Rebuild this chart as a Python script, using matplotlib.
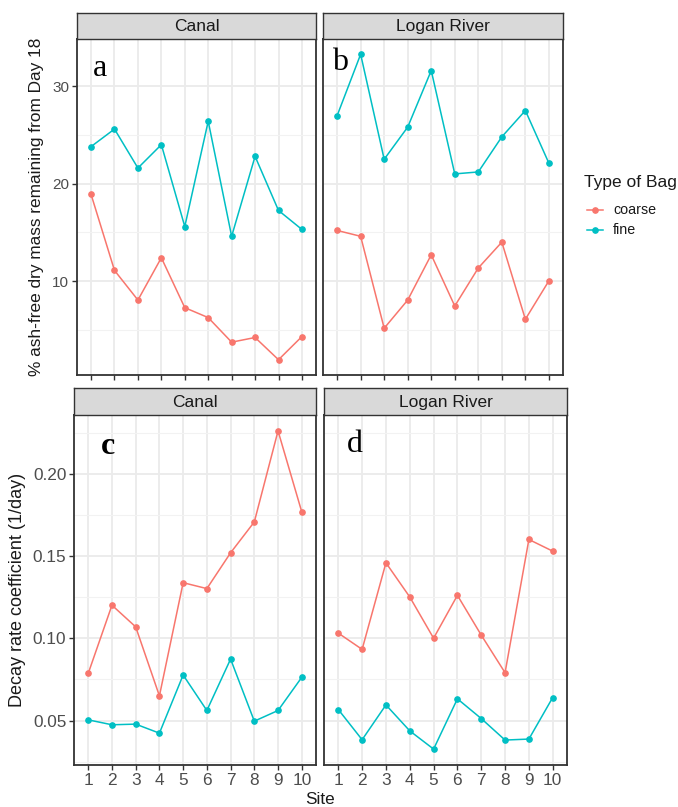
import matplotlib
matplotlib.use("Agg")
import matplotlib.pyplot as plt
from matplotlib.lines import Line2D
import numpy as np

# ---------------- data ----------------
sites = [1, 2, 3, 4, 5, 6, 7, 8, 9, 10]
site_labels = ["1", "2", "3", "4", "5", "6", "7", "8", "9", "10"]

mass_canal_coarse = [18.9, 11.1, 8.06, 12.4, 7.28, 6.26, 3.74, 4.22, 1.94, 4.32]
mass_canal_fine = [23.8, 25.6, 21.6, 24.0, 15.6, 26.4, 14.6, 22.8, 17.25, 15.3]
mass_logan_coarse = [15.2, 14.6, 5.17, 8.06, 12.7, 7.45, 11.35, 14.0, 6.09, 10.03]
mass_logan_fine = [26.97, 33.27, 22.5, 25.8, 31.6, 21.0, 21.2, 24.8, 27.5, 22.1]

k_canal_coarse = [0.0787, 0.1202, 0.107, 0.065, 0.1339, 0.1303, 0.1521, 0.1709, 0.2263, 0.177]
k_canal_fine = [0.0504, 0.0474, 0.0478, 0.0423, 0.0777, 0.0561, 0.0874, 0.0496, 0.0561, 0.0763]
k_logan_coarse = [0.1032, 0.0933, 0.146, 0.1252, 0.1001, 0.1262, 0.102, 0.0791, 0.1602, 0.1531]
k_logan_fine = [0.0567, 0.0383, 0.0595, 0.0437, 0.0326, 0.0632, 0.0512, 0.0381, 0.0387, 0.064]

facets = ["Canal", "Logan River"]
bag_types = ["coarse", "fine"]
panel_letters = ["a", "b", "c", "d"]

mass_ticks = [10, 20, 30]
mass_minor = [5, 15, 25, 35]
k_ticks = [0.05, 0.10, 0.15, 0.20]
k_tick_labels = ["0.05", "0.10", "0.15", "0.20"]
k_minor = [0.025, 0.075, 0.125, 0.175, 0.225]

colors = {"coarse": "#F8766D", "fine": "#00BFC4"}

# ---------------- layout helpers ----------------
W, H = 678, 807
fig = plt.figure(figsize=(W / 100, H / 100), dpi=100)
SANS = "Liberation Sans"
SERIF = "Liberation Serif"


def px_axes(x0, y0, x1, y1):
    return fig.add_axes([x0 / W, 1 - y1 / H, (x1 - x0) / W, (y1 - y0) / H])


def fx(x):
    return x / W


def fy(y):
    return 1 - y / H


def limits(values):
    lo, hi = min(values), max(values)
    pad = 0.05 * (hi - lo)
    return lo - pad, hi + pad


mass_all = mass_canal_coarse + mass_canal_fine + mass_logan_coarse + mass_logan_fine
k_all = k_canal_coarse + k_canal_fine + k_logan_coarse + k_logan_fine
mass_lim = limits(mass_all)
k_lim = limits(k_all)


def style_panel(ax, ylim, major, minor, show_y, show_xlabels, tick_fs, ytick_labels=None):
    ax.set_xlim(0.4, 10.6)
    ax.set_ylim(*ylim)
    for s in ax.spines.values():
        s.set_color("#333333")
        s.set_linewidth(1.3)
        s.set_zorder(5)
    for v in sites:
        ax.axvline(v, color="#EBEBEB", lw=1.3, zorder=0)
    for v in major:
        ax.axhline(v, color="#EBEBEB", lw=1.3, zorder=0)
    for v in minor:
        ax.axhline(v, color="#F2F2F2", lw=0.8, zorder=0)
    ax.set_xticks(sites)
    if show_xlabels:
        ax.set_xticklabels(site_labels, fontsize=tick_fs, color="#4D4D4D", family=SANS)
    else:
        ax.set_xticklabels([])
    ax.set_yticks(major)
    if show_y:
        labs = ytick_labels if ytick_labels is not None else [str(m) for m in major]
        ax.set_yticklabels(labs, fontsize=tick_fs, color="#4D4D4D", family=SANS)
        ax.tick_params(axis="y", length=3.5, width=1.0, color="#333333", pad=2)
    else:
        ax.tick_params(axis="y", length=0, labelleft=False)
    ax.tick_params(axis="x", length=3.5, width=1.0, color="#333333", pad=2)


def strip(x0, y0, x1, y1, text, fs):
    sax = px_axes(x0, y0, x1, y1)
    sax.set_xticks([])
    sax.set_yticks([])
    sax.set_facecolor("#D9D9D9")
    for s in sax.spines.values():
        s.set_color("#333333")
        s.set_linewidth(1.0)
    sax.text(0.5, 0.47, text, ha="center", va="center", fontsize=fs,
             color="#1A1A1A", family=SANS, transform=sax.transAxes)


def draw_series(ax, coarse, fine):
    for name, vals in zip(bag_types, [coarse, fine]):
        ax.plot(sites, vals, color=colors[name], lw=1.1, marker="o",
                markersize=3.8, zorder=3, label=name)


# ---------------- top chart ----------------
top_boxes = [(77, 39, 316, 375), (323, 39, 563, 375)]
top_strips = [(77, 13, 316, 39), (323, 13, 563, 39)]
top_data = [(mass_canal_coarse, mass_canal_fine), (mass_logan_coarse, mass_logan_fine)]
for i in range(2):
    ax = px_axes(*top_boxes[i])
    draw_series(ax, *top_data[i])
    style_panel(ax, mass_lim, mass_ticks, mass_minor, show_y=(i == 0),
                show_xlabels=False, tick_fs=11)
    strip(*top_strips[i], facets[i], 12.5)

fig.text(fx(37), fy(207), "% ash-free dry mass remaining from Day 18",
         rotation=90, ha="center", va="center", fontsize=12.4, family=SANS, color="#1A1A1A")

# ---------------- bottom chart ----------------
bot_boxes = [(74, 415, 316, 765), (324, 415, 567, 765)]
bot_strips = [(74, 388, 316, 415), (324, 388, 567, 415)]
bot_data = [(k_canal_coarse, k_canal_fine), (k_logan_coarse, k_logan_fine)]
for i in range(2):
    ax = px_axes(*bot_boxes[i])
    draw_series(ax, *bot_data[i])
    style_panel(ax, k_lim, k_ticks, k_minor, show_y=(i == 0),
                show_xlabels=True, tick_fs=12.4, ytick_labels=k_tick_labels)
    strip(*bot_strips[i], facets[i], 12.5)

fig.text(fx(18), fy(590), "Decay rate coefficient (1/day)",
         rotation=90, ha="center", va="center", fontsize=13, family=SANS, color="#1A1A1A")
fig.text(fx(320), fy(799), "Site", ha="center", va="center",
         fontsize=12.3, family=SANS, color="#1A1A1A")

# ---------------- panel letters ----------------
letter_pos = [(100, 69), (340, 62), (108, 447), (355, 444)]
letter_weight = ["normal", "normal", "bold", "normal"]
for (lx, ly), lt, lw in zip(letter_pos, panel_letters, letter_weight):
    fig.text(fx(lx), fy(ly), lt, ha="center", va="center", fontsize=23,
             family=SERIF, weight=lw, color="black")

# ---------------- legend ----------------
fig.text(fx(584), fy(183), "Type of Bag", ha="left", va="center",
         fontsize=12.5, family=SANS, color="#1A1A1A")
legend_rows = [210, 230]
for name, ry in zip(bag_types, legend_rows):
    fig.add_artist(Line2D([fx(587), fx(603)], [fy(ry), fy(ry)], color=colors[name],
                          lw=1.1, transform=fig.transFigure))
    fig.add_artist(Line2D([fx(595)], [fy(ry)], color=colors[name], marker="o",
                          markersize=3.8, transform=fig.transFigure))
    fig.text(fx(613), fy(ry), name, ha="left", va="center", fontsize=10.3,
             family=SANS, color="#1A1A1A")

fig.savefig("out.png", dpi=100)
